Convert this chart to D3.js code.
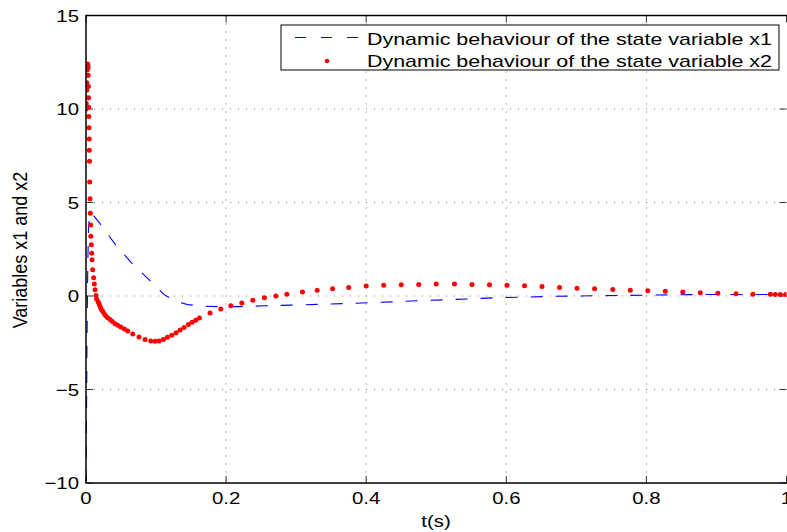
<!DOCTYPE html>
<html>
<head>
<meta charset="utf-8">
<script src="https://cdn.jsdelivr.net/npm/d3@7"></script>
<style>
  html, body { margin: 0; padding: 0; background: #fff; }
  svg { display: block; }
  text { font-family: "Liberation Sans", Arial, Helvetica, sans-serif; fill: #000; }
</style>
</head>
<body>
<svg id="chart" width="787" height="532"></svg>
<script>
// ---- data ----
const xTicks = [0, 0.2, 0.4, 0.6, 0.8, 1];
const xTickLabels = ["0", "0.2", "0.4", "0.6", "0.8", "1"];
const yTicks = [-10, -5, 0, 5, 10, 15];
const yTickLabels = ["\u221210", "\u22125", "0", "5", "10", "15"];

// state variable x1 (blue dashed)
const x1T = [0, 0.0008, 0.0015, 0.0025, 0.0035, 0.005, 0.0075, 0.0186, 0.042, 0.064, 0.088, 0.112, 0.13, 0.145, 0.17, 0.19, 0.22, 0.256, 0.293, 0.33, 0.366, 0.404, 0.44, 0.477, 0.514, 0.551, 0.586, 0.626, 0.663, 0.7, 0.736, 0.773, 0.81, 0.847, 0.884, 0.921, 0.959, 1.0];
const x1V = [-10, -6, -2, 1.5, 3.5, 4.4, 4.45, 3.94, 2.75, 1.81, 0.94, 0.06, -0.3, -0.46, -0.55, -0.57, -0.57, -0.52, -0.49, -0.45, -0.41, -0.36, -0.31, -0.25, -0.2, -0.15, -0.09, -0.06, -0.02, 0.0, 0.02, 0.03, 0.05, 0.07, 0.08, 0.08, 0.08, 0.08];

// state variable x2 (red dots)
const x2T = [0, 0.0003, 0.0006, 0.0009, 0.0012, 0.0015, 0.0018, 0.0021, 0.0024, 0.0027, 0.003, 0.0032, 0.0034, 0.0036, 0.0038, 0.004, 0.0043, 0.0046, 0.0048, 0.005, 0.0053, 0.0058, 0.0062, 0.0067, 0.0069, 0.0076, 0.0081, 0.0086, 0.0095, 0.0109, 0.0119, 0.0129, 0.0143, 0.0153, 0.0176, 0.019, 0.0204, 0.0219, 0.0239, 0.0257, 0.0281, 0.031, 0.0343, 0.0376, 0.0414, 0.0453, 0.0496, 0.0547, 0.0596, 0.0667, 0.0757, 0.0843, 0.0924, 0.0986, 0.1043, 0.1104, 0.1161, 0.1224, 0.1286, 0.1343, 0.14, 0.1461, 0.1514, 0.1567, 0.1619, 0.1771, 0.1924, 0.2067, 0.2224, 0.2381, 0.2547, 0.271, 0.2867, 0.309, 0.33, 0.352, 0.375, 0.4, 0.425, 0.45, 0.475, 0.5, 0.526, 0.551, 0.576, 0.601, 0.626, 0.651, 0.676, 0.701, 0.726, 0.752, 0.777, 0.802, 0.827, 0.852, 0.877, 0.902, 0.928, 0.952, 0.977, 0.984, 0.991, 0.999];
const x2V = [10.0, 10.3, 10.6, 11.0, 11.4, 11.8, 12.1, 12.3, 12.4, 12.35, 12.2, 11.8, 11.2, 10.6, 10.1, 9.6, 9.0, 8.4, 7.8, 7.2, 6.1, 5.2, 4.42, 3.8, 3.2, 2.74, 2.29, 1.94, 1.4, 0.98, 0.64, 0.34, 0.03, -0.17, -0.33, -0.46, -0.59, -0.72, -0.82, -0.94, -1.05, -1.16, -1.26, -1.37, -1.48, -1.57, -1.66, -1.77, -1.87, -2.03, -2.19, -2.33, -2.41, -2.42, -2.41, -2.33, -2.21, -2.1, -1.96, -1.82, -1.68, -1.53, -1.41, -1.3, -1.18, -0.91, -0.7, -0.52, -0.38, -0.23, -0.09, 0.0, 0.1, 0.21, 0.31, 0.39, 0.46, 0.53, 0.58, 0.6, 0.62, 0.64, 0.64, 0.62, 0.6, 0.58, 0.55, 0.51, 0.46, 0.42, 0.39, 0.35, 0.31, 0.28, 0.25, 0.21, 0.18, 0.15, 0.12, 0.1, 0.09, 0.08, 0.08, 0.08];

const legendLabels = ["Dynamic behaviour of the state variable x1", "Dynamic behaviour of the state variable x2"];
const xLabel = "t(s)";
const yLabel = "Variables x1 and x2";

// ---- layout ----
const L = 86, R = 786.5, T = 15.5, B = 483;
const SX = 1.2; // horizontal stretch of the original figure's text

const svg = d3.select("#chart");
const x = d3.scaleLinear().domain([0, 1]).range([L, R]);
const y = d3.scaleLinear().domain([-10, 15]).range([B, T]);

svg.append("defs").append("clipPath").attr("id", "clip")
  .append("rect").attr("x", L).attr("y", T).attr("width", R - L).attr("height", B - T);

// grid
const grid = svg.append("g");
xTicks.slice(1, -1).forEach(t => {
  grid.append("line").attr("x1", x(t)).attr("x2", x(t)).attr("y1", T).attr("y2", B)
    .attr("stroke", "#777").attr("stroke-width", 1).attr("stroke-dasharray", "1,7");
});
yTicks.slice(1, -1).forEach(t => {
  grid.append("line").attr("x1", L).attr("x2", R).attr("y1", y(t)).attr("y2", y(t))
    .attr("stroke", "#777").attr("stroke-width", 1).attr("stroke-dasharray", "1,7");
});

// ticks (inside, all four sides)
const tk = svg.append("g").attr("stroke", "#333").attr("stroke-width", 1);
xTicks.forEach(t => {
  tk.append("line").attr("x1", x(t)).attr("x2", x(t)).attr("y1", B).attr("y2", B - 7);
  tk.append("line").attr("x1", x(t)).attr("x2", x(t)).attr("y1", T).attr("y2", T + 7);
});
yTicks.forEach(t => {
  tk.append("line").attr("x1", L).attr("x2", L + 7).attr("y1", y(t)).attr("y2", y(t));
  tk.append("line").attr("x1", R).attr("x2", R - 7).attr("y1", y(t)).attr("y2", y(t));
});

// data
const plot = svg.append("g").attr("clip-path", "url(#clip)");
const x1Data = x1T.map((t, i) => [t, x1V[i]]);
const x2Data = x2T.map((t, i) => [t, x2V[i]]);
const line = d3.line().x(d => x(d[0])).y(d => y(d[1]));
plot.append("path").datum(x1Data).attr("d", line)
  .attr("fill", "none").attr("stroke", "#0000ff").attr("stroke-width", 1.1)
  .attr("stroke-dasharray", "12,13");
plot.selectAll("circle.x2").data(x2Data).enter().append("circle")
  .attr("class", "x2")
  .attr("cx", d => x(d[0])).attr("cy", d => y(d[1])).attr("r", 2.5)
  .attr("fill", "#ff0000");

// axes box
svg.append("rect").attr("x", L).attr("y", T).attr("width", R - L + 2).attr("height", B - T)
  .attr("fill", "none").attr("stroke", "#000").attr("stroke-width", 1.5);

// tick labels
function stext(xp, yp, s, anchor, size) {
  return svg.append("text")
    .attr("transform", `translate(${xp},${yp}) scale(${SX},1)`)
    .attr("text-anchor", anchor).attr("font-size", size).text(s);
}
xTicks.forEach((t, i) => stext(x(t), 504, xTickLabels[i], "middle", 17));
yTicks.forEach((t, i) => stext(L - 7, y(t) + 6, yTickLabels[i], "end", 17));

// axis labels
stext(436, 527, xLabel, "middle", 17);
svg.append("text")
  .attr("transform", `translate(27,250) rotate(-90) scale(1,1.15)`)
  .attr("text-anchor", "middle").attr("font-size", 18).text(yLabel);

// legend
const lg = svg.append("g");
lg.append("rect").attr("x", 281).attr("y", 25).attr("width", 498).attr("height", 45)
  .attr("fill", "#fff").attr("stroke", "#000").attr("stroke-width", 1);
lg.append("line").attr("x1", 295).attr("x2", 358).attr("y1", 37.5).attr("y2", 37.5)
  .attr("stroke", "#0000ff").attr("stroke-width", 1.1).attr("stroke-dasharray", "11,15");
lg.append("circle").attr("cx", 327).attr("cy", 61).attr("r", 2.3).attr("fill", "#ff0000");
[45, 67].forEach((yy, i) => {
  lg.append("text").attr("x", 367).attr("y", yy).attr("font-size", 17)
    .attr("textLength", 405).attr("lengthAdjust", "spacingAndGlyphs").text(legendLabels[i]);
});
</script>
</body>
</html>
